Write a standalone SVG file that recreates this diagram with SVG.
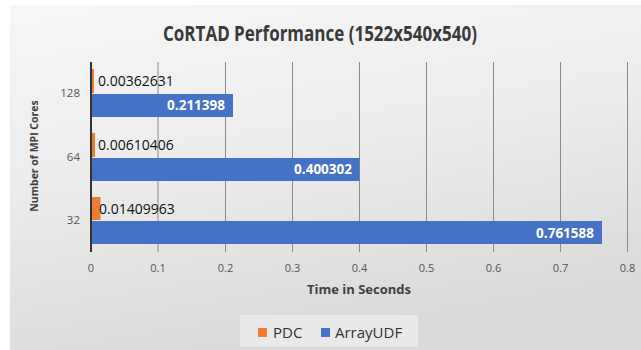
<svg xmlns="http://www.w3.org/2000/svg" width="641" height="350" viewBox="0 0 641 350">
<defs>
<linearGradient id="bg" x1="0" y1="0" x2="0.3" y2="1">
<stop offset="0" stop-color="#f7f7f7"/>
<stop offset="0.5" stop-color="#ececec"/>
<stop offset="1" stop-color="#dadada"/>
</linearGradient>
<style>
.grid{stroke:#8a8a8a;stroke-width:1}
.pdc{fill:#ed7d31}
.udf{fill:#4472c4}
.tick{font-family:"Open Sans","Liberation Sans",sans-serif;font-size:11px;fill:#555;text-anchor:middle}
.cat{font-family:"Open Sans","Liberation Sans",sans-serif;font-size:11.5px;fill:#555;text-anchor:end}
.vlab{font-family:"Open Sans","Liberation Sans",sans-serif;font-size:14px;font-weight:500;fill:#111}
.wlab{font-family:"Open Sans","Liberation Sans",sans-serif;font-size:13.5px;font-weight:bold;fill:#fff;text-anchor:end}
.axt{font-family:"Open Sans","Liberation Sans",sans-serif;font-weight:bold;fill:#404040}
</style>
</defs>
<rect x="0" y="0" width="641" height="350" fill="#fff"/>
<rect x="10" y="5" width="631" height="345" fill="url(#bg)"/>
<text x="320" y="41" text-anchor="middle" font-family="Open Sans,Liberation Sans,sans-serif" font-size="22" font-weight="bold" fill="#3a3a3a" textLength="314" lengthAdjust="spacingAndGlyphs">CoRTAD Performance (1522x540x540)</text>
<g id="grid">
<line class="grid" x1="158" y1="62" x2="158" y2="252"/>
<line class="grid" x1="225.5" y1="62" x2="225.5" y2="252"/>
<line class="grid" x1="292.5" y1="62" x2="292.5" y2="252"/>
<line class="grid" x1="359.5" y1="62" x2="359.5" y2="252"/>
<line class="grid" x1="426.5" y1="62" x2="426.5" y2="252"/>
<line class="grid" x1="493.5" y1="62" x2="493.5" y2="252"/>
<line class="grid" x1="560.5" y1="62" x2="560.5" y2="252"/>
<line class="grid" x1="627.5" y1="62" x2="627.5" y2="252"/>
</g>
<g id="bars">
<rect class="pdc" x="91" y="69" width="3" height="24"/>
<rect class="udf" x="91" y="94" width="142" height="23"/>
<rect class="pdc" x="91" y="133" width="4" height="24"/>
<rect class="udf" x="91" y="158" width="268.5" height="23"/>
<rect class="pdc" x="91" y="197" width="9.5" height="23"/>
<rect class="udf" x="91" y="221" width="511" height="23"/>
</g>
<line x1="91" y1="62" x2="91" y2="252" stroke="#333" stroke-width="2"/>
<g id="labels">
<text class="vlab" x="98" y="86">0.00362631</text>
<text class="wlab" x="225" y="110">0.211398</text>
<text class="vlab" x="98" y="150">0.00610406</text>
<text class="wlab" x="352" y="174">0.400302</text>
<text class="vlab" x="99" y="214">0.01409963</text>
<text class="wlab" x="594" y="238">0.761588</text>
</g>
<g id="yaxis">
<text class="cat" x="80" y="97">128</text>
<text class="cat" x="80" y="161">64</text>
<text class="cat" x="80" y="224">32</text>
<text class="axt" font-size="10.5" text-anchor="middle" transform="translate(38,156) rotate(-90)">Number of MPI Cores</text>
</g>
<g id="xaxis">
<text class="tick" x="91" y="272">0</text>
<text class="tick" x="158" y="272">0.1</text>
<text class="tick" x="225.5" y="272">0.2</text>
<text class="tick" x="292.5" y="272">0.3</text>
<text class="tick" x="359.5" y="272">0.4</text>
<text class="tick" x="426.5" y="272">0.5</text>
<text class="tick" x="493.5" y="272">0.6</text>
<text class="tick" x="560.5" y="272">0.7</text>
<text class="tick" x="627.5" y="272">0.8</text>
<text class="axt" font-size="13" x="359" y="294" text-anchor="middle">Time in Seconds</text>
</g>
<g id="legend">
<rect x="240" y="315" width="178" height="32" fill="#e9e9e9"/>
<rect class="pdc" x="258" y="328" width="9" height="9"/>
<text x="273" y="338" font-family="Open Sans,Liberation Sans,sans-serif" font-size="15" fill="#333">PDC</text>
<rect class="udf" x="321" y="328" width="9" height="9"/>
<text x="335" y="338" font-family="Open Sans,Liberation Sans,sans-serif" font-size="15" fill="#333">ArrayUDF</text>
</g>
</svg>
